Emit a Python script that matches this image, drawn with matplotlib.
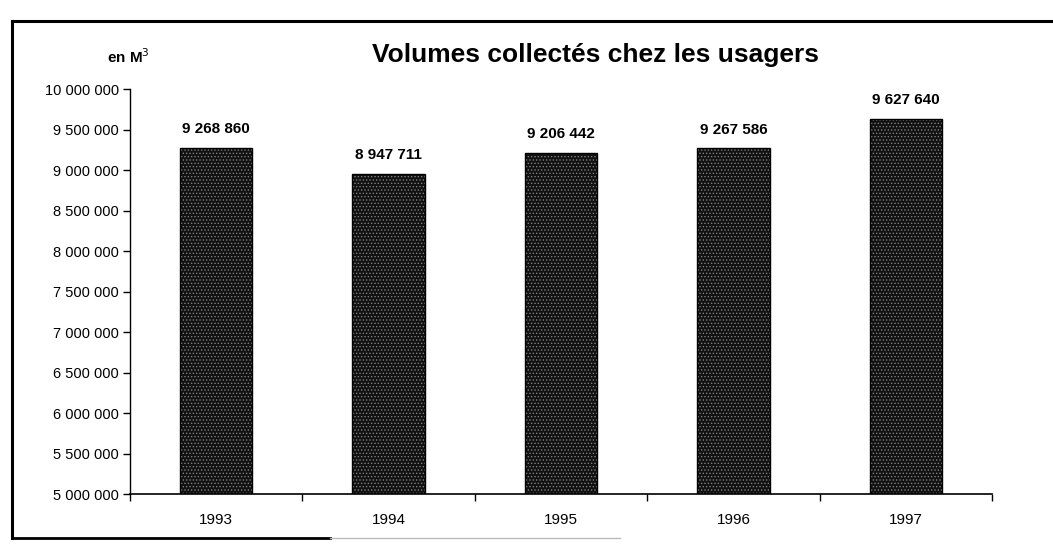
import numpy as np
import matplotlib
matplotlib.use("Agg")
import matplotlib.pyplot as plt
from matplotlib.ticker import FuncFormatter

plt.rcParams['font.family'] = ['Liberation Sans', 'DejaVu Sans']
plt.rcParams['hatch.linewidth'] = 0.6

# data
years = ['1993', '1994', '1995', '1996', '1997']
volumes = [9268860, 8947711, 9206442, 9267586, 9627640]
value_labels = ['9 268 860', '8 947 711', '9 206 442', '9 267 586', '9 627 640']
yticks = np.arange(5000000, 10000001, 500000)


def fr_thousands(v, pos=None):
    return f"{int(v):,}".replace(",", " ")


fig = plt.figure(figsize=(10.53, 5.56), dpi=100)
W, H = 1053, 556

# outer frame (scanned box)
frame = fig.add_axes([0, 0, 1, 1])
frame.set_xlim(0, W)
frame.set_ylim(H, 0)
frame.axis('off')
frame.plot([12, 12], [21, 538], color='black', lw=2.2)
frame.plot([12, W], [21, 21], color='black', lw=2.2)
frame.plot([12, 330], [538, 538], color='black', lw=2.0)
frame.plot([330, 620], [538, 538], color='#bbbbbb', lw=1.0)

# plot area in pixels: x 130..992, y 89..494
ax = fig.add_axes([130 / W, 1 - 494 / H, (992 - 130) / W, (494 - 89) / H])
x = np.arange(len(years))
# stippled dark fill, then black outline on top
ax.bar(x, volumes, width=0.42, color='#111111', hatch='.....',
       edgecolor='#808080', linewidth=0, zorder=2)
ax.bar(x, volumes, width=0.42, fill=False, edgecolor='black',
       linewidth=1.0, zorder=3)

ax.set_xlim(-0.5, len(years) - 0.5)
ax.set_ylim(5000000, 10000000)
ax.set_yticks(yticks)
ax.yaxis.set_major_formatter(FuncFormatter(fr_thousands))
ax.set_xticks(np.arange(-0.5, len(years), 1.0))
ax.set_xticklabels([])
ax.set_xticks(x, minor=True)
ax.set_xticklabels(years, minor=True)
ax.tick_params(axis='x', which='minor', length=0, pad=14, labelsize=11)
ax.tick_params(axis='x', which='major', direction='out', length=5, width=1)
ax.tick_params(axis='y', direction='out', length=5, width=1, labelsize=10.5, pad=3)
for s in ['top', 'right']:
    ax.spines[s].set_visible(False)
ax.spines['left'].set_linewidth(1.0)
ax.spines['bottom'].set_linewidth(1.2)

for xi, v, lab in zip(x, volumes, value_labels):
    ax.annotate(lab, (xi, v), xytext=(0, 8.5), textcoords='offset points',
                ha='center', va='bottom', fontsize=11, fontweight='bold')

fig.text(595 / W, 1 - 55 / H, 'Volumes collectés chez les usagers',
         ha='center', va='center', fontsize=19, fontweight='bold')
fig.text(128 / W, 1 - 57 / H, 'en M$^3$', ha='center', va='center',
         fontsize=11, fontweight='bold')

fig.savefig('out.png', dpi=100)
